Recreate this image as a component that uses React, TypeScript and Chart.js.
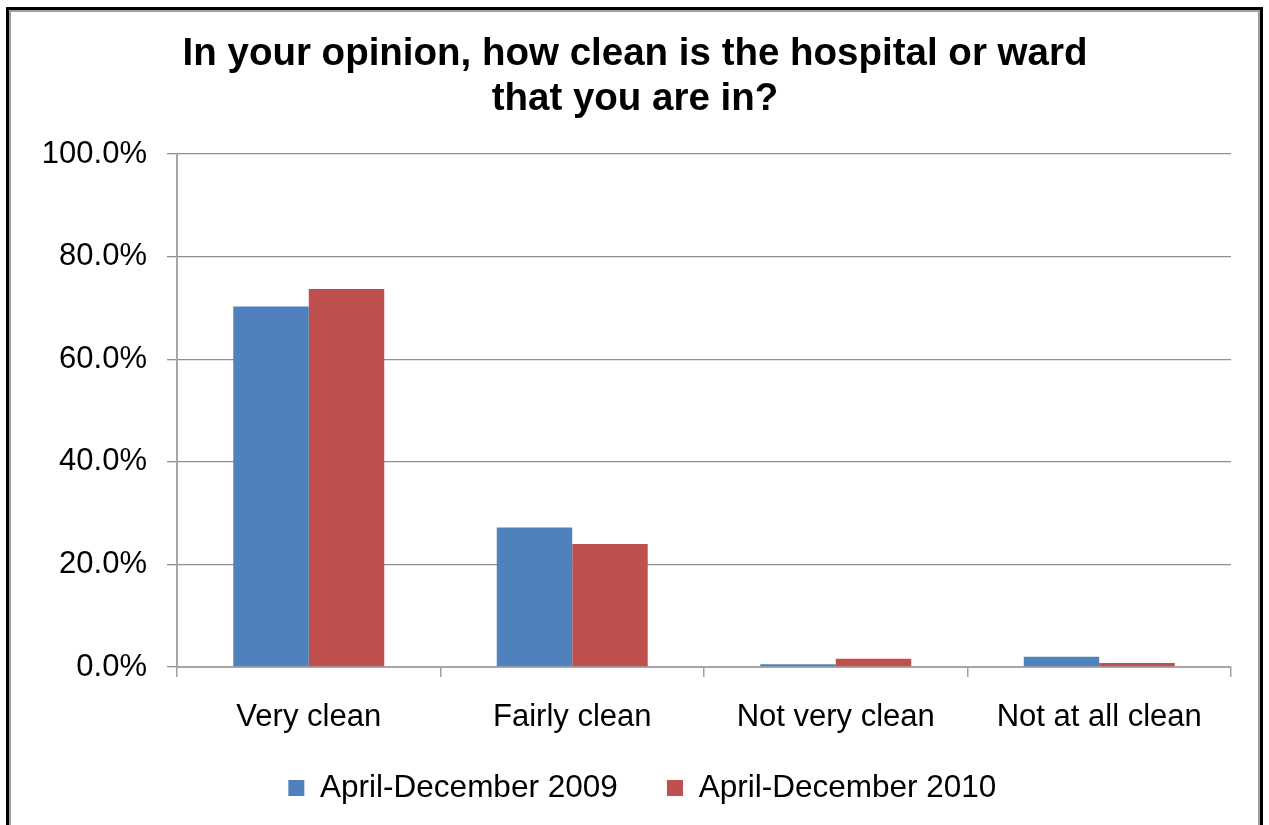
import React, { useEffect, useRef } from "react";
import { Chart, registerables } from "chart.js";

Chart.register(...registerables);

const categories = ["Very clean", "Fairly clean", "Not very clean", "Not at all clean"];
const series2009 = [70.3, 27.2, 0.55, 2.0];
const series2010 = [73.7, 24.0, 1.6, 0.8];
const seriesLabels = ["April-December 2009", "April-December 2010"];
const titleLines = ["In your opinion, how clean is the hospital or ward", "that you are in?"];
const yTicks = { min: 0, max: 100, step: 20 };

const FONT = "'Liberation Sans', Arial, sans-serif";

const boxPlace = {
  id: "boxPlace",
  afterLayout(chart: any) {
    const lg = chart.legend;
    if (lg) {
      const h = lg.height;
      lg.top = 723;
      lg.bottom = 723 + h;
      lg.left = 53.7;
      lg.right = 1231;
    }
    const tb = chart.titleBlock;
    if (tb) {
      tb.left = 39;
      tb.right = 1231;
    }
  },
};

export default function App() {
  const ref = useRef<HTMLCanvasElement | null>(null);

  useEffect(() => {
    if (!ref.current) return;
    const chart = new Chart(ref.current, {
      type: "bar",
      data: {
        labels: categories,
        datasets: [
          { label: seriesLabels[0], data: series2009, backgroundColor: "#4F81BD", borderWidth: 0 },
          { label: seriesLabels[1], data: series2010, backgroundColor: "#C0504D", borderWidth: 0 },
        ],
      },
      plugins: [boxPlace],
      options: {
        responsive: false,
        animation: false,
        devicePixelRatio: 1,
        datasets: { bar: { barPercentage: 1, categoryPercentage: 0.573 } },
        layout: { padding: { top: 0, left: 0, right: 38, bottom: -3.75 } },
        plugins: {
          tooltip: { enabled: false },
          title: {
            display: true,
            text: titleLines,
            color: "#000",
            font: { family: FONT, size: 38.5, weight: "bold", lineHeight: 1.17 },
            padding: { top: 31.5, bottom: 32.5 },
          },
          legend: {
            display: true,
            position: "bottom",
            labels: {
              color: "#000",
              font: { family: FONT, size: 31.5 },
              boxWidth: 16,
              boxHeight: 16,
              padding: 49.25,
            },
          },
        },
        scales: {
          x: {
            grid: {
              offset: true,
              drawOnChartArea: false,
              drawTicks: true,
              tickLength: 10,
              color: "#a0a0a0",
              lineWidth: 1.5,
            },
            border: { display: true, color: "#a6a6a6", width: 2 },
            ticks: {
              color: "#000",
              font: { family: FONT, size: 31 },
              padding: 22,
              maxRotation: 0,
            },
            afterFit: (s: any) => {
              s.height = 71;
            },
          },
          y: {
            min: yTicks.min,
            max: yTicks.max,
            ticks: {
              stepSize: yTicks.step,
              color: "#000",
              font: { family: FONT, size: 31 },
              padding: 20,
              callback: (v: any) => Number(v).toFixed(1) + "%",
            },
            grid: {
              color: "#8f8f8f",
              lineWidth: 1.3,
              drawTicks: true,
              tickLength: 10,
            },
            border: { display: true, color: "#a6a6a6", width: 2 },
            afterFit: (s: any) => {
              s.width = 177;
            },
          },
        },
      },
    });
    return () => chart.destroy();
  }, []);

  return (
    <div
      style={{
        position: "fixed",
        left: 0,
        top: 0,
        width: 1269,
        height: 825,
        overflow: "hidden",
        background: "#fff",
      }}
    >
      <canvas
        ref={ref}
        width={1269}
        height={825}
        style={{ position: "absolute", left: 0, top: 0, width: 1269, height: 825 }}
      />
      <div
        style={{
          position: "absolute",
          left: 6,
          top: 7,
          width: 1257,
          height: 840,
          border: "3px solid #000",
          boxSizing: "border-box",
          pointerEvents: "none",
        }}
      >
        <div
          style={{
            position: "absolute",
            left: 0,
            top: 0,
            right: 0,
            bottom: 0,
            border: "2px solid #a0a0a0",
            boxSizing: "border-box",
          }}
        />
      </div>
    </div>
  );
}
